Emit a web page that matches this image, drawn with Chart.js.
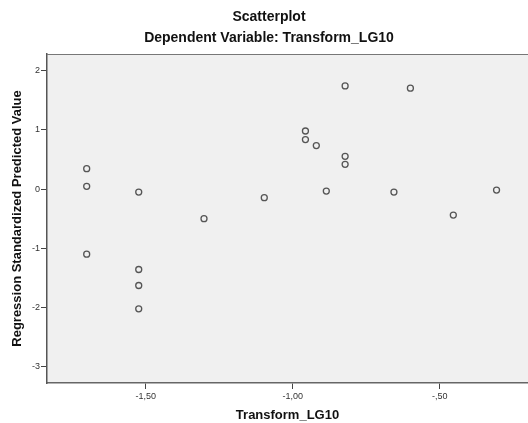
<!DOCTYPE html>
<html><head><meta charset="utf-8">
<script src="https://cdn.jsdelivr.net/npm/chart.js@4/dist/chart.umd.min.js"></script>
<style>html,body{margin:0;padding:0;background:#fff;}</style>
</head><body>
<canvas id="c" width="528" height="423"></canvas>
<script>
const xValues = [-1.701,-1.701,-1.701,-1.524,-1.524,-1.524,-1.524,-1.302,-1.097,-0.957,-0.957,-0.920,-0.822,-0.822,-0.822,-0.886,-0.656,-0.600,-0.454,-0.307];
const yValues = [0.346,0.047,-1.096,-0.049,-1.355,-1.625,-2.019,-0.498,-0.144,0.981,0.836,0.735,1.742,0.554,0.419,-0.032,-0.049,1.703,-0.438,-0.015];
const xTicks = [-1.5,-1.0,-0.5];
const xTickLabels = ["-1,50","-1,00","-,50"];
const yTicks = [-3,-2,-1,0,1,2];
const yTickLabels = ["-3","-2","-1","0","1","2"];

const points = xValues.map((x,i)=>({x:x,y:yValues[i]}));
const FONT = "'Liberation Sans', Arial, sans-serif";

const bgPlugin = {
  id:'bg',
  beforeDraw(chart){
    const {ctx, chartArea:a} = chart;
    ctx.save();
    ctx.fillStyle = '#f0f0f0';
    ctx.fillRect(a.left, a.top, a.right-a.left, a.bottom-a.top);
    ctx.restore();
  },
  afterDraw(chart){
    const {ctx, chartArea:a} = chart;
    ctx.save();
    ctx.strokeStyle = '#777';
    ctx.lineWidth = 1;
    ctx.beginPath();
    ctx.moveTo(a.left, a.top+0.5);
    ctx.lineTo(a.right, a.top+0.5);
    ctx.stroke();
    ctx.restore();
  }
};

new Chart(document.getElementById('c'), {
  type:'scatter',
  data:{datasets:[{
    data:points,
    pointRadius:3,
    pointHoverRadius:3,
    pointBorderWidth:1.3,
    pointBorderColor:'#555',
    pointBackgroundColor:'rgba(0,0,0,0)'
  }]},
  options:{
    responsive:false,
    animation:false,
    devicePixelRatio:1,
    layout:{autoPadding:false,padding:{left:10,right:0,top:0,bottom:0}},
    plugins:{
      legend:{display:false},
      tooltip:{enabled:false},
      title:{display:true,text:'Scatterplot',color:'#111',font:{family:FONT,size:14,weight:'bold'},padding:{top:8.6,bottom:4.7}},
      subtitle:{display:true,text:'Dependent Variable: Transform_LG10',color:'#111',font:{family:FONT,size:14,weight:'bold'},padding:{top:0,bottom:7.1}}
    },
    scales:{
      x:{
        type:'linear',min:-1.836,max:-0.2,
        afterBuildTicks(s){ s.ticks = xTicks.map(v=>({value:v})); },
        afterFit(s){ s.height = 40; },
        ticks:{color:'#333',font:{family:FONT,size:9},padding:2,maxRotation:0,autoSkip:false,
          callback:(v)=>{const i=xTicks.indexOf(v);return i>=0?xTickLabels[i]:'';}},
        grid:{drawOnChartArea:false,drawTicks:true,tickLength:6,color:'#444',lineWidth:1},
        border:{display:true,color:'#666',width:1.5},
        title:{display:true,text:'Transform_LG10',color:'#111',font:{family:FONT,size:13,weight:'bold'},padding:{top:0,bottom:0}}
      },
      y:{
        type:'linear',min:-3.27,max:2.28,
        afterBuildTicks(s){ s.ticks = yTicks.map(v=>({value:v})); },
        afterFit(s){ s.width = 37; },
        ticks:{color:'#333',font:{family:FONT,size:9},padding:1,autoSkip:false,
          callback:(v)=>{const i=yTicks.indexOf(v);return i>=0?yTickLabels[i]:'';}},
        grid:{drawOnChartArea:false,drawTicks:true,tickLength:6,color:'#444',lineWidth:1},
        border:{display:true,color:'#555',width:1.5},
        title:{display:true,text:'Regression Standardized Predicted Value',color:'#111',font:{family:FONT,size:13,weight:'bold'},padding:{top:0,bottom:0}}
      }
    }
  },
  plugins:[bgPlugin]
});
</script>
</body></html>
